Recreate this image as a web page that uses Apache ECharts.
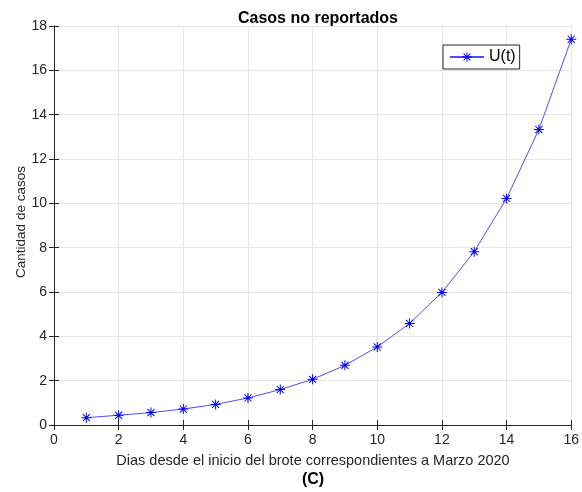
<!DOCTYPE html>
<html>
<head>
<meta charset="utf-8">
<script src="https://cdn.jsdelivr.net/npm/echarts@6/dist/echarts.min.js"></script>
<style>html,body{margin:0;padding:0;background:#fff;}#c{width:582px;height:492px;}</style>
</head>
<body>
<div id="c"></div>
<script>
const days = [1,2,3,4,5,6,7,8,9,10,11,12,13,14,15,16];
const unreported = [0.33,0.44,0.56,0.72,0.93,1.22,1.60,2.06,2.69,3.52,4.58,5.98,7.82,10.22,13.33,17.40];
const seriesName = 'U(t)';
const titleText = 'Casos no reportados';
const xLabel = 'Dias desde el inicio del brote correspondientes a Marzo 2020';
const yLabel = 'Cantidad de casos';
const panelLabel = '(C)';

const star = 'path://M-1,-10L1,-10L1,10L-1,10Z M-10,-1L10,-1L10,1L-10,1Z ' +
  'M-7.78,-6.36L-6.36,-7.78L7.78,6.36L6.36,7.78Z M-7.78,6.36L6.36,-7.78L7.78,-6.36L-6.36,7.78Z';

const font = '"Liberation Sans", Arial, Helvetica, sans-serif';
const axisCol = '#262626';
const chart = echarts.init(document.getElementById('c'), null, {renderer:'canvas'});
const baseAxis = {
  axisLine:{show:true, lineStyle:{color:axisCol, width:1}},
  axisTick:{show:true, inside:true, length:5, lineStyle:{color:axisCol}},
  axisLabel:{color:axisCol, fontSize:14, fontFamily:font},
  splitLine:{show:true, lineStyle:{color:'#e6e6e6', width:1}}
};
chart.setOption({
  animation:false,
  backgroundColor:'#fff',
  title:{text:titleText, left:313, textAlign:'center', top:6,
    textStyle:{fontFamily:font, fontSize:16, fontWeight:'bold', color:'#000'}},
  grid:{left:54, right:9, top:26, bottom:67},
  legend:{
    data:[seriesName],
    left:443, top:45, padding:[4,4,4,6], itemWidth:34, itemHeight:12,
    borderColor:axisCol, borderWidth:1, backgroundColor:'#fff',
    textStyle:{fontFamily:font, fontSize:16, color:'#000'}
  },
  xAxis:[
    Object.assign({}, baseAxis, {type:'value', min:0, max:16, interval:2, position:'bottom',
      axisLabel:Object.assign({}, baseAxis.axisLabel, {margin:8})}),
    Object.assign({}, baseAxis, {type:'value', min:0, max:16, interval:2, position:'top',
      axisLabel:{show:false}, splitLine:{show:false}})
  ],
  yAxis:[
    Object.assign({}, baseAxis, {type:'value', min:0, max:18, interval:2, position:'left',
      axisLabel:Object.assign({}, baseAxis.axisLabel, {margin:7})}),
    Object.assign({}, baseAxis, {type:'value', min:0, max:18, interval:2, position:'right',
      axisLabel:{show:false}, splitLine:{show:false}})
  ],
  graphic:[
    {type:'text', x:313, y:461, style:{text:xLabel, fill:axisCol, font:'14.5px '+font, textAlign:'center', textVerticalAlign:'middle'}},
    {type:'text', x:313, y:480, style:{text:panelLabel, fill:'#000', font:'bold 16px '+font, textAlign:'center', textVerticalAlign:'middle'}},
    {type:'text', x:21, y:222, rotation:Math.PI/2, style:{text:yLabel, fill:axisCol, font:'13.5px '+font, textAlign:'center', textVerticalAlign:'middle'}}
  ],
  series:[{
    name:seriesName, type:'line',
    data:days.map((d,i)=>[d, unreported[i]]),
    symbol:star, symbolSize:10, showAllSymbol:true,
    lineStyle:{color:'#4d4dff', width:1},
    itemStyle:{color:'#0000ff'},
    emphasis:{disabled:true}
  }]
});
</script>
</body>
</html>
